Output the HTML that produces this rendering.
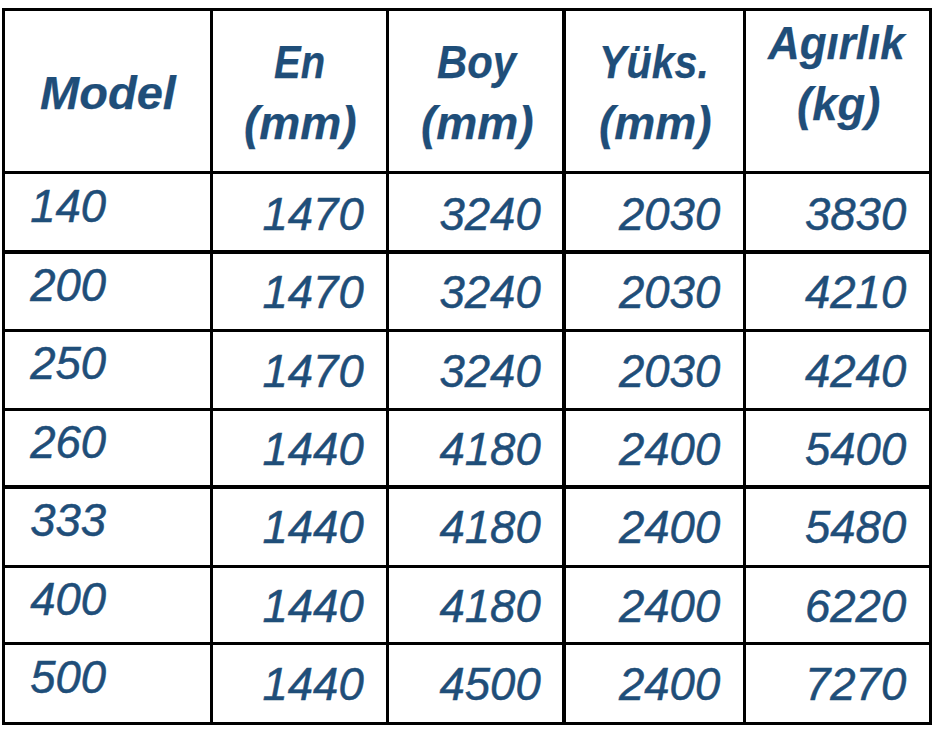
<!DOCTYPE html><html><head><meta charset="utf-8"><style>
html,body{margin:0;padding:0;background:#fff;width:936px;height:732px;overflow:hidden;position:relative}
.l{position:absolute;background:#000}
.t{position:absolute;white-space:nowrap;color:#1F4E79;font-family:"Liberation Sans",sans-serif;font-style:italic;transform-origin:0 0}
.h{font-weight:bold;font-size:46.0px;line-height:60px;height:60px;-webkit-text-stroke:0.25px #1F4E79}
.n{font-weight:normal;font-size:45.5px;line-height:60px;height:60px;-webkit-text-stroke:0.5px #1F4E79}
</style></head><body>
<div class="l" style="left:2px;top:8px;width:3px;height:717px"></div>
<div class="l" style="left:210px;top:8px;width:3px;height:717px"></div>
<div class="l" style="left:386px;top:8px;width:3px;height:717px"></div>
<div class="l" style="left:562px;top:8px;width:4px;height:717px"></div>
<div class="l" style="left:743px;top:8px;width:3px;height:717px"></div>
<div class="l" style="left:929px;top:8px;width:3px;height:717px"></div>
<div class="l" style="left:2px;top:8px;width:930px;height:3px"></div>
<div class="l" style="left:2px;top:171px;width:930px;height:3px"></div>
<div class="l" style="left:2px;top:250px;width:930px;height:4px"></div>
<div class="l" style="left:2px;top:329px;width:930px;height:3px"></div>
<div class="l" style="left:2px;top:408px;width:930px;height:3px"></div>
<div class="l" style="left:2px;top:485px;width:930px;height:4px"></div>
<div class="l" style="left:2px;top:565px;width:930px;height:3px"></div>
<div class="l" style="left:2px;top:642px;width:930px;height:3px"></div>
<div class="l" style="left:2px;top:722px;width:930px;height:3px"></div>
<div class="t h" style="left:39.98px;top:63.00px;transform:scaleX(1.0226);">Model</div>
<div class="t h" style="left:274.07px;top:32.00px;transform:scaleX(0.8680);">En</div>
<div class="t h" style="left:243.99px;top:93.00px;transform:scaleX(1.0019);">(mm)</div>
<div class="t h" style="left:437.09px;top:32.00px;transform:scaleX(0.9091);">Boy</div>
<div class="t h" style="left:420.74px;top:93.00px;transform:scaleX(1.0019);">(mm)</div>
<div class="t h" style="left:599.42px;top:32.00px;transform:scaleX(0.8957);">Yüks.</div>
<div class="t h" style="left:598.74px;top:93.00px;transform:scaleX(1.0019);">(mm)</div>
<div class="t h" style="left:767.98px;top:13.00px;transform:scaleX(0.9546);">Agırlık</div>
<div class="t h" style="left:797.02px;top:74.00px;transform:scaleX(0.9877);">(kg)</div>
<div class="t n" style="left:30.20px;top:177.00px;">140</div>
<div class="t n" style="left:262.50px;top:185.00px;">1470</div>
<div class="t n" style="left:439.50px;top:185.00px;">3240</div>
<div class="t n" style="left:619.00px;top:185.00px;">2030</div>
<div class="t n" style="left:805.00px;top:185.00px;">3830</div>
<div class="t n" style="left:30.20px;top:256.00px;">200</div>
<div class="t n" style="left:262.50px;top:263.00px;">1470</div>
<div class="t n" style="left:439.50px;top:263.00px;">3240</div>
<div class="t n" style="left:619.00px;top:263.00px;">2030</div>
<div class="t n" style="left:805.00px;top:263.00px;">4210</div>
<div class="t n" style="left:30.20px;top:334.00px;">250</div>
<div class="t n" style="left:262.50px;top:342.00px;">1470</div>
<div class="t n" style="left:439.50px;top:342.00px;">3240</div>
<div class="t n" style="left:619.00px;top:342.00px;">2030</div>
<div class="t n" style="left:805.00px;top:342.00px;">4240</div>
<div class="t n" style="left:30.20px;top:413.00px;">260</div>
<div class="t n" style="left:262.50px;top:420.00px;">1440</div>
<div class="t n" style="left:439.50px;top:420.00px;">4180</div>
<div class="t n" style="left:619.00px;top:420.00px;">2400</div>
<div class="t n" style="left:805.00px;top:420.00px;">5400</div>
<div class="t n" style="left:30.20px;top:491.00px;">333</div>
<div class="t n" style="left:262.50px;top:498.00px;">1440</div>
<div class="t n" style="left:439.50px;top:498.00px;">4180</div>
<div class="t n" style="left:619.00px;top:498.00px;">2400</div>
<div class="t n" style="left:805.00px;top:498.00px;">5480</div>
<div class="t n" style="left:30.20px;top:570.00px;">400</div>
<div class="t n" style="left:262.50px;top:577.00px;">1440</div>
<div class="t n" style="left:439.50px;top:577.00px;">4180</div>
<div class="t n" style="left:619.00px;top:577.00px;">2400</div>
<div class="t n" style="left:805.00px;top:577.00px;">6220</div>
<div class="t n" style="left:30.20px;top:648.00px;">500</div>
<div class="t n" style="left:262.50px;top:655.00px;">1440</div>
<div class="t n" style="left:439.50px;top:655.00px;">4500</div>
<div class="t n" style="left:619.00px;top:655.00px;">2400</div>
<div class="t n" style="left:805.00px;top:655.00px;">7270</div>
</body></html>
